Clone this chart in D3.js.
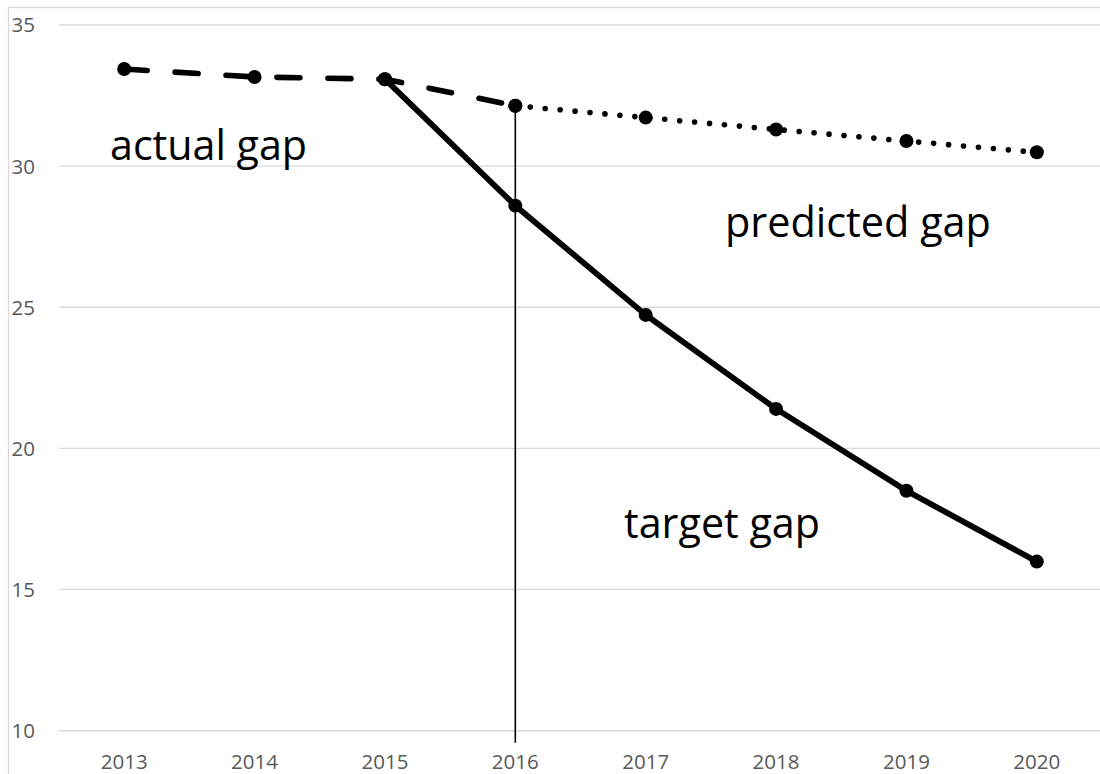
<!DOCTYPE html>
<html>
<head>
<meta charset="utf-8">
<script src="https://cdn.jsdelivr.net/npm/d3@7"></script>
<style>
  body { margin: 0; background: #fff; }
  svg { display: block; font-family: "Open Sans", "Noto Sans", sans-serif; }
</style>
</head>
<body>
<div id="gap-chart"></div>
<script>
// Gap chart: actual (dashed), predicted (dotted) and target (solid)

const years = ["2013", "2014", "2015", "2016", "2017", "2018", "2019", "2020"];
const yTicks = [10, 15, 20, 25, 30, 35];

// each series only covers part of the years
const actualYears = ["2013", "2014", "2015", "2016"];
const actualValues = [33.44, 33.16, 33.08, 32.14];

const predictedYears = ["2016", "2017", "2018", "2019", "2020"];
const predictedValues = [32.14, 31.72, 31.30, 30.89, 30.49];

const targetYears = ["2015", "2016", "2017", "2018", "2019", "2020"];
const targetValues = [33.08, 28.60, 24.73, 21.40, 18.50, 15.99];

const markerYear = "2016";

const W = 1100, H = 774;
const plot = {left: 59, right: 1102, top: 25, bottom: 730.7};

const svg = d3.select("#gap-chart")
  .append("svg")
  .attr("width", W)
  .attr("height", H);

// outer chart border (only top/left visible in the frame)
svg.append("rect")
  .attr("x", 8.5).attr("y", 7.5)
  .attr("width", W + 20).attr("height", H + 20)
  .attr("fill", "none")
  .attr("stroke", "#d9d9d9")
  .attr("stroke-width", 1.3);

const x = d3.scalePoint()
  .domain(years)
  .range([plot.left, plot.right])
  .padding(0.5);

const y = d3.scaleLinear()
  .domain([10, 35])
  .range([plot.bottom, plot.top]);

// gridlines
svg.append("g")
  .selectAll("line")
  .data(yTicks)
  .join("line")
  .attr("x1", plot.left)
  .attr("x2", plot.right)
  .attr("y1", d => y(d))
  .attr("y2", d => y(d))
  .attr("stroke", "#d9d9d9")
  .attr("stroke-width", 1.4);

// y tick labels
svg.append("g")
  .selectAll("text")
  .data(yTicks)
  .join("text")
  .attr("x", 35)
  .attr("y", d => y(d))
  .attr("dy", "0.36em")
  .attr("text-anchor", "end")
  .attr("fill", "#595959")
  .style("font-size", "20.5px")
  .text(d => d);

// x tick labels
svg.append("g")
  .selectAll("text")
  .data(years)
  .join("text")
  .attr("x", d => x(d))
  .attr("y", 769)
  .attr("text-anchor", "middle")
  .attr("fill", "#595959")
  .style("font-size", "20.5px")
  .text(d => d);

// vertical marker line at 2016
svg.append("line")
  .attr("x1", x(markerYear))
  .attr("x2", x(markerYear))
  .attr("y1", y(predictedValues[0]))
  .attr("y2", plot.bottom + 12)
  .attr("stroke", "#000")
  .attr("stroke-width", 1.6);

const toPts = (ys, vs) => ys.map((yr, i) => ({year: yr, value: vs[i]}));

const series = [
  {name: "target", pts: toPts(targetYears, targetValues), dash: null},
  {name: "actual", pts: toPts(actualYears, actualValues), dash: "23,28"},
  {name: "predicted", pts: toPts(predictedYears, predictedValues), dash: "0,15"}
];

const line = d3.line()
  .x(d => x(d.year))
  .y(d => y(d.value));

series.forEach(s => {
  svg.append("path")
    .datum(s.pts)
    .attr("d", line)
    .attr("fill", "none")
    .attr("stroke", "#000")
    .attr("stroke-width", s.name === "target" ? 5.8 : 5.6)
    .attr("stroke-linecap", "round")
    .attr("stroke-linejoin", "round")
    .attr("stroke-dasharray", s.dash);

  svg.append("g")
    .selectAll("circle")
    .data(s.pts)
    .join("circle")
    .attr("cx", d => x(d.year))
    .attr("cy", d => y(d.value))
    .attr("r", 7)
    .attr("fill", "#000");
});

// annotations, font size fitted to the width seen in the picture
const labels = [
  {text: "actual gap", x: 110, y: 160, w: 197},
  {text: "predicted gap", x: 725, y: 237, w: 266},
  {text: "target gap", x: 624, y: 538, w: 196}
];

labels.forEach(l => {
  const t = svg.append("text")
    .attr("x", l.x)
    .attr("y", l.y)
    .attr("fill", "#000")
    .style("font-size", "40px")
    .text(l.text);
  const len = t.node().getComputedTextLength();
  t.style("font-size", (40 * l.w / len).toFixed(2) + "px");
});
</script>
</body>
</html>
